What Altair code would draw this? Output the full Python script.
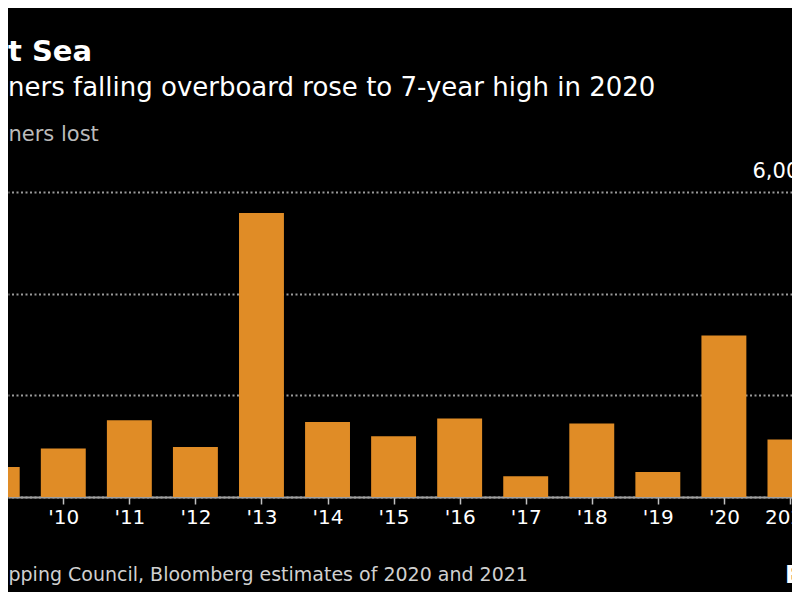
import json
import altair as alt
import pandas as pd

# ---- data ----
years = list(range(2009, 2022))
year_labels = ["'09", "'10", "'11", "'12", "'13", "'14", "'15", "'16",
               "'17", "'18", "'19", "'20", "2021"]
containers_lost = [590, 952, 1508, 983, 5586, 1475, 1194, 1542,
                   407, 1444, 492, 3175, 1129]
y_ticks = [0, 2000, 4000, 6000]

title_text = "t Sea"
subtitle_text = "ners falling overboard rose to 7-year high in 2020"
unit_text = "ners lost"
source_text = "pping Council, Bloomberg estimates of 2020 and 2021"
logo_text = "B"

FONT = "DejaVu Sans"
BAR = "#E08C26"
HALF = 0.34

df = pd.DataFrame({"year": years, "lost": containers_lost})
label_expr = json.dumps(year_labels) + "[datum.value - 2009]"

bars = alt.Chart(df).transform_calculate(
    x0=f"datum.year - {HALF}", x1=f"datum.year + {HALF}"
).mark_bar(color=BAR, clip=True).encode(
    x=alt.X("x0:Q",
            scale=alt.Scale(domain=[2009.163, 2021.031], nice=False, zero=False),
            axis=alt.Axis(values=years, labelExpr=label_expr, grid=False,
                          domainColor="#a0a0a0", domainWidth=2,
                          tickColor="#c0c0c0", tickSize=7, tickWidth=1.5,
                          labelColor="white", labelFont=FONT, labelFontSize=20,
                          labelPadding=3, labelFlush=False, labelOverlap=False,
                          titleX=0, titleY=77, titleAlign="left",
                          titleAnchor="start", titleBaseline="middle",
                          titleFont=FONT, titleFontSize=19,
                          titleFontWeight="normal", titleColor="#d0d0d0"),
            title=source_text),
    x2="x1:Q",
    y=alt.Y("lost:Q",
            scale=alt.Scale(domain=[0, 6000], nice=False),
            axis=alt.Axis(orient="right", values=y_ticks, grid=True,
                          gridColor="#9a9a9a", gridDash=[2, 2.5], gridWidth=2,
                          domain=False, ticks=False,
                          labelExpr="datum.value == 6000 ? '6,000' : ''",
                          labelAlign="left", labelPadding=-40,
                          labelBaseline="alphabetic", labelOffset=-15,
                          labelColor="white", labelFont=FONT, labelFontSize=21,
                          titleAngle=0, titleX=-784, titleY=-58,
                          titleAlign="left", titleBaseline="middle",
                          titleColor="#bbbbbb", titleFont=FONT,
                          titleFontSize=21, titleFontWeight="normal"),
            title=unit_text),
    y2=alt.datum(0),
)

logo = alt.Chart(pd.DataFrame({"t": [logo_text]})).mark_text(
    align="left", baseline="middle", fontSize=24, fontWeight="bold",
    color="white", font=FONT
).encode(text="t:N", x=alt.value(777), y=alt.value(384))

chart = alt.layer(bars, logo).properties(
    width=784, height=305,
    background="black",
    padding={"left": 0, "top": 184, "right": 0, "bottom": 95},
    autosize=alt.AutoSizeParams(type="none"),
    title=alt.TitleParams(text=title_text, subtitle=subtitle_text,
                          anchor="start", frame="group",
                          font=FONT, fontSize=29, fontWeight="bold",
                          color="white", subtitleFont=FONT,
                          subtitleFontSize=26, subtitleColor="white",
                          subtitlePadding=8, offset=22),
).configure_view(stroke=None)

chart.save("out.html", embed_options={"renderer": "svg", "actions": False})
